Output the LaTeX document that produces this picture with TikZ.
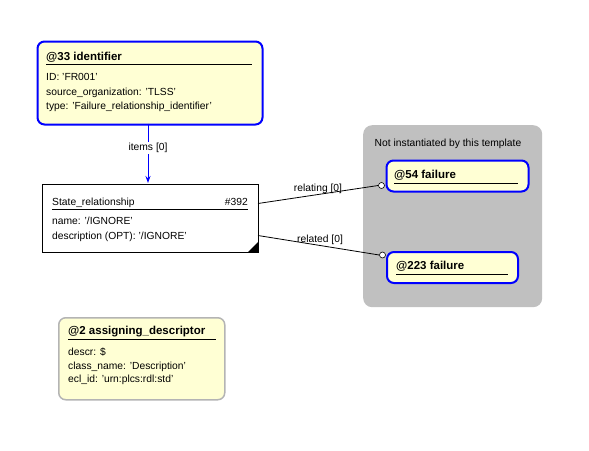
\documentclass[tikz,border=0pt]{standalone}
\usepackage{fontspec}
\setmainfont{Liberation Sans}
\usetikzlibrary{arrows.meta}
\definecolor{boxyellow}{HTML}{FFFFD4}
\definecolor{boxblue}{HTML}{0000FF}
\definecolor{regiongray}{HTML}{C0C0C0}
\definecolor{edgegray}{HTML}{B4B4B4}
\tikzset{
  txt/.style={anchor=base west, inner sep=0pt, font=\fontsize{10.3}{12}\selectfont},
  ttl/.style={anchor=base west, inner sep=0pt, font=\fontsize{11.5}{13}\selectfont\bfseries},
  lbl/.style={inner sep=0pt, font=\fontsize{10.3}{12}\selectfont},
  bluebox/.style={draw=boxblue, line width=2pt, fill=boxyellow, rounded corners=7pt, anchor=north west, inner sep=0pt},
  graybox/.style={draw=edgegray, line width=1.5pt, fill=boxyellow, rounded corners=7pt, anchor=north west, inner sep=0pt},
  plainbox/.style={draw=black, line width=0.9pt, fill=white, anchor=north west, inner sep=0pt},
  region/.style={fill=regiongray, rounded corners=9pt, anchor=north west, inner sep=0pt},
  uline/.style={line width=0.9pt},
  conn/.style={line width=0.8pt},
  endcircle/.style={circle, draw=black, fill=white, line width=0.6pt, inner sep=0pt, minimum size=6pt}
}
\begin{document}
\begin{tikzpicture}[x=1pt,y=-1pt]
\useasboundingbox (0,0) rectangle (589,450);
% gray region
\node[region, minimum width=179pt, minimum height=182pt] (reg) at (363,125) {};
\node[lbl, anchor=base] (regl) at (448,146) {Not instantiated by this template};
% @33 identifier
\node[bluebox, minimum width=225pt, minimum height=83pt] (id) at (36.5,40.5) {};
\node[ttl] (idt) at (46,60) {@33 identifier};
\draw[uline] (46,64.5) -- (252,64.5);
\node[txt] (id1) at (46,80.5) {ID: 'FR001'};
\node[txt] (id2) at (46,95) {source\_organization: 'TLSS'};
\node[txt] (id3) at (46,109.5) {type: 'Failure\_relationship\_identifier'};
% State_relationship
\node[plainbox, minimum width=216pt, minimum height=68pt] (sr) at (42,184) {};
\node[txt] (srt) at (52,205) {State\_relationship};
\node[txt, anchor=base east] (srn) at (248,205) {\#392};
\draw[uline] (52,209.5) -- (248,209.5);
\node[txt] (sr1) at (52,224) {name: '/IGNORE'};
\node[txt] (sr2) at (52,239) {description (OPT): '/IGNORE'};
\fill (258,242) -- (258,252) -- (248,252) -- cycle;
% @54 failure
\node[bluebox, minimum width=142pt, minimum height=31pt] (f54) at (385.5,159.5) {};
\node[ttl] (f54t) at (394,178) {@54 failure};
\draw[uline] (394,183) -- (518,183);
% @223 failure
\node[bluebox, minimum width=131pt, minimum height=31pt] (f223) at (386,251) {};
\node[ttl] (f223t) at (396,269.5) {@223 failure};
\draw[uline] (396,274.5) -- (508,274.5);
% @2 assigning_descriptor
\node[graybox, minimum width=166pt, minimum height=82pt] (ad) at (58,317) {};
\node[ttl] (adt) at (68,334.5) {@2 assigning\_descriptor};
\draw[uline] (68,339) -- (216,339);
\node[txt] (ad1) at (68,355) {descr: \$};
\node[txt] (ad2) at (68,369) {class\_name: 'Description'};
\node[txt] (ad3) at (68,382.5) {ecl\_id: 'urn:plcs:rdl:std'};
% connectors
\coordinate (idb) at (148,123.5);
\coordinate (srtop) at (148,183);
\draw[draw=boxblue, line width=1pt, -{Stealth[length=7pt,width=5pt]}] (idb) -- (srtop);
\node[lbl, fill=white, inner sep=1pt] (itl) at (148,148) {items [0]};
\coordinate (rel1s) at (258,203.5);
\node[endcircle] (c54) at (381.5,185.5) {};
\draw[conn] (rel1s) -- (c54.west);
\node[lbl] (rel1l) at (318,189) {relating [0]};
\coordinate (rel2s) at (258,235.5);
\node[endcircle] (c223) at (382.5,255) {};
\draw[conn] (rel2s) -- (c223.west);
\node[lbl] (rel2l) at (320,239.5) {related [0]};
\end{tikzpicture}
\end{document}
